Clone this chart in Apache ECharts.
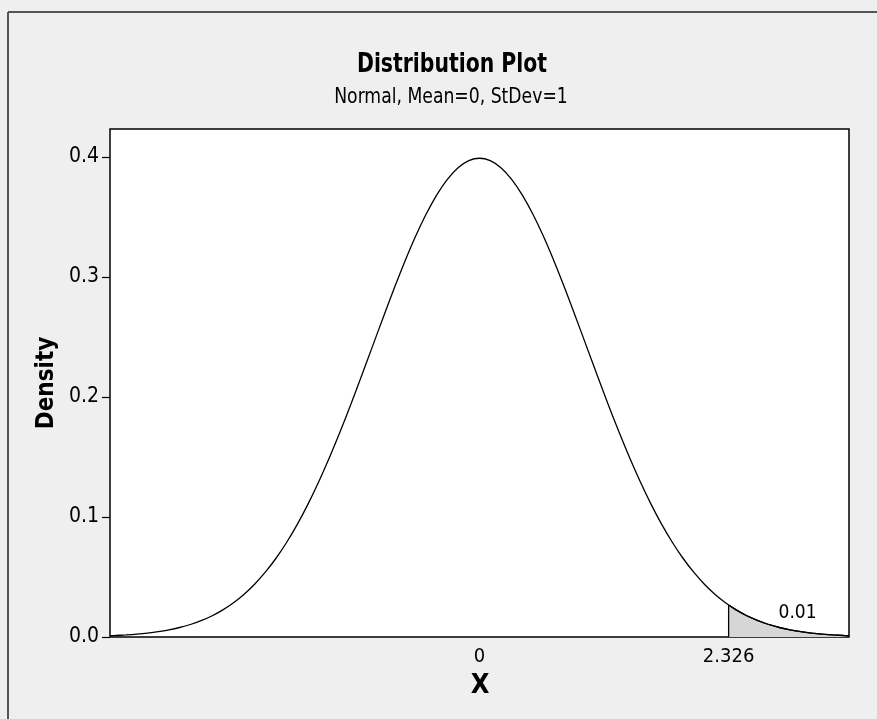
<!DOCTYPE html>
<html>
<head>
<meta charset="utf-8">
<script src="https://cdn.jsdelivr.net/npm/echarts@6/dist/echarts.min.js"></script>
<style>
  html, body { margin: 0; padding: 0; background: #efefef; }
  #chart { width: 877px; height: 719px; }
</style>
</head>
<body>
<div id="chart"></div>
<script>
// ---- data ----
var titleText = 'Distribution Plot';
var subtitleText = 'Normal, Mean=0, StDev=1';
var xAxisName = 'X';
var yAxisName = 'Density';
var xTickValues = [0, 2.326];
var yTickValues = [0, 0.1, 0.2, 0.3, 0.4];
var yTickLabels = ['0.0', '0.1', '0.2', '0.3', '0.4'];
var tailArea = '0.01';

var curveX = [-3.45, -3.4, -3.3, -3.2, -3.1, -3.0, -2.9, -2.8, -2.7, -2.6, -2.5, -2.4, -2.3, -2.2, -2.1, -2.0,
  -1.9, -1.8, -1.7, -1.6, -1.5, -1.4, -1.3, -1.2, -1.1, -1.0, -0.9, -0.8, -0.7, -0.6, -0.5, -0.4, -0.3, -0.2, -0.1,
  0.0, 0.1, 0.2, 0.3, 0.4, 0.5, 0.6, 0.7, 0.8, 0.9, 1.0, 1.1, 1.2, 1.3, 1.4, 1.5, 1.6, 1.7, 1.8, 1.9,
  2.0, 2.1, 2.2, 2.3, 2.4, 2.5, 2.6, 2.7, 2.8, 2.9, 3.0, 3.1, 3.2, 3.3, 3.4, 3.45];
var curveY = [0.00104, 0.00123, 0.00172, 0.00238, 0.00327, 0.00443, 0.00595, 0.00792, 0.01042, 0.01358, 0.01753, 0.02239, 0.02833, 0.03547, 0.04398, 0.05399,
  0.06562, 0.07895, 0.09405, 0.11092, 0.12952, 0.14973, 0.17137, 0.19419, 0.21785, 0.24197, 0.26609, 0.28969, 0.31225, 0.33322, 0.35207, 0.36827, 0.38139, 0.39104, 0.39695,
  0.39894, 0.39695, 0.39104, 0.38139, 0.36827, 0.35207, 0.33322, 0.31225, 0.28969, 0.26609, 0.24197, 0.21785, 0.19419, 0.17137, 0.14973, 0.12952, 0.11092, 0.09405, 0.07895, 0.06562,
  0.05399, 0.04398, 0.03547, 0.02833, 0.02239, 0.01753, 0.01358, 0.01042, 0.00792, 0.00595, 0.00443, 0.00327, 0.00238, 0.00172, 0.00123, 0.00104];

var tailX = [2.326, 2.326, 2.4, 2.5, 2.6, 2.7, 2.8, 2.9, 3.0, 3.1, 3.2, 3.3, 3.4, 3.45];
var tailY = [0, 0.02665, 0.02239, 0.01753, 0.01358, 0.01042, 0.00792, 0.00595, 0.00443, 0.00327, 0.00238, 0.00172, 0.00123, 0.00104];
var tailLabelPos = [2.97, 0.02];

// ---- build ----
function pairs(xs, ys) { var out = []; for (var i = 0; i < xs.length; i++) out.push([xs[i], ys[i]]); return out; }

var FONT = "'DejaVu Sans Condensed', 'DejaVu Sans', sans-serif";

var chart = echarts.init(document.getElementById('chart'), null, { renderer: 'canvas' });
var option = {
  backgroundColor: '#efefef',
  animation: false,
  grid: {
    left: 110, right: 28, top: 129, bottom: 82,
    show: true, backgroundColor: '#ffffff', borderColor: '#000000', borderWidth: 1.5
  },
  xAxis: {
    type: 'value', min: -3.45, max: 3.45,
    axisLine: { show: false, onZero: false },
    axisTick: { show: false },
    splitLine: { show: false },
    axisLabel: {
      customValues: xTickValues,
      formatter: function (v) { return String(v); },
      color: '#000', fontFamily: FONT, fontSize: 20, margin: 10
    }
  },
  yAxis: {
    type: 'value', min: 0, max: 0.4233, interval: 0.1,
    axisLine: { show: false, onZero: false },
    axisTick: { show: true, inside: false, length: 8, lineStyle: { color: '#000', width: 1.2 },
      customValues: yTickValues },
    splitLine: { show: false },
    axisLabel: {
      customValues: yTickValues,
      formatter: function (v) { return yTickLabels[Math.round(v * 10)]; },
      color: '#000', fontFamily: FONT, fontSize: 21, margin: 11
    }
  },
  series: [
    {
      type: 'line', data: pairs(tailX, tailY), symbol: 'none', smooth: false,
      lineStyle: { color: '#000', width: 1.3 },
      areaStyle: { color: '#d6d6d6', opacity: 1 },
      z: 2,
      markPoint: {
        symbol: 'circle', symbolSize: 0,
        data: [{ coord: tailLabelPos, value: tailArea }],
        label: { show: true, formatter: tailArea, color: '#000', fontFamily: FONT, fontSize: 19, position: 'inside' }
      }
    },
    {
      type: 'line', data: pairs(curveX, curveY), symbol: 'none', smooth: 0.3,
      lineStyle: { color: '#000', width: 1.3 },
      z: 3
    }
  ],
  graphic: [
    { type: 'line', shape: { x1: 8, y1: 12, x2: 8, y2: 719 }, style: { stroke: '#555', lineWidth: 2 } },
    { type: 'line', shape: { x1: 8, y1: 12, x2: 877, y2: 12 }, style: { stroke: '#555', lineWidth: 2 } },
    { type: 'text', x: 452, y: 65, scaleX: 0.84, style: { text: titleText, font: 'bold 27px ' + FONT, fill: '#000', textAlign: 'center', textVerticalAlign: 'middle' } },
    { type: 'text', x: 451, y: 97, scaleX: 0.87, style: { text: subtitleText, font: '22px ' + FONT, fill: '#000', textAlign: 'center', textVerticalAlign: 'middle' } },
    { type: 'text', x: 480, y: 686, style: { text: xAxisName, font: 'bold 27px ' + FONT, fill: '#000', textAlign: 'center', textVerticalAlign: 'middle' } },
    { type: 'text', x: 47, y: 383, rotation: Math.PI / 2, style: { text: yAxisName, font: 'bold 24px ' + FONT, fill: '#000', textAlign: 'center', textVerticalAlign: 'middle' } }
  ]
};
chart.setOption(option);
</script>
</body>
</html>
